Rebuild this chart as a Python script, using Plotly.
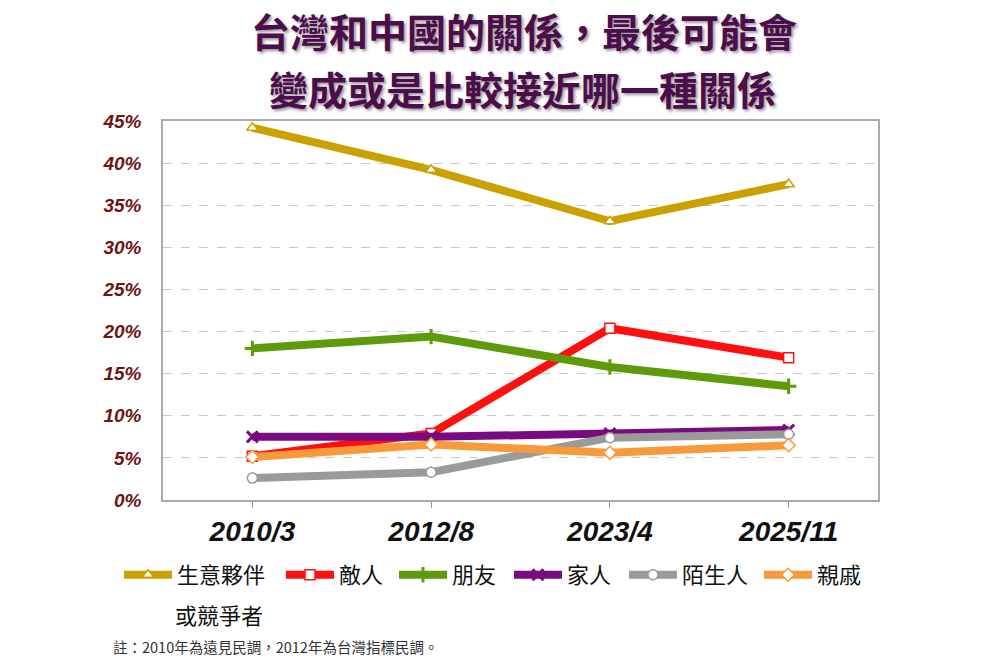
import plotly.graph_objects as go

periods = ["2010/3", "2012/8", "2023/4", "2025/11"]
series_names = ["生意夥伴", "敵人", "朋友", "家人", "陌生人", "親戚"]
partner = [44.2, 39.2, 33.1, 37.5]
enemy = [5.2, 7.9, 20.4, 16.9]
friend = [18.0, 19.4, 15.8, 13.5]
family = [7.5, 7.5, 7.9, 8.3]
stranger = [2.6, 3.3, 7.4, 7.8]
relative = [5.1, 6.6, 5.6, 6.5]
y_ticks = [0, 5, 10, 15, 20, 25, 30, 35, 40, 45]

series_values = [partner, enemy, friend, family, stranger, relative]
colors = ["#C9A100", "#FF1010", "#5E9A0A", "#7A0A80", "#9A9A9A", "#F99A3A"]
symbols = ["triangle-up", "square", "cross-thin", "x-thin", "circle", "diamond"]
fills = ["white", "white", "#5E9A0A", "#7A0A80", "white", "white"]

W, H = 1000, 666
l, r, t, b = 163, 122, 121, 166
pw, ph = W - l - r, H - t - b

def px_x(px):
    return (px - l) / pw

def px_y(py):
    return (H - b - py) / ph

legend_px = [119, 281, 394, 509, 624, 759]
legend_ids = ["legend", "legend2", "legend3", "legend4", "legend5", "legend6"]

fig = go.Figure()
for name, vals, c, s, f, lid in zip(series_names, series_values, colors, symbols, fills, legend_ids):
    thin = s.endswith("thin")
    fig.add_trace(go.Scatter(
        x=periods, y=vals, name=name, mode="lines+markers", legend=lid,
        line=dict(color=c, width=8),
        marker=dict(symbol=s, size=10 if not thin else 11, color=f,
                    line=dict(color=c, width=1.5 if not thin else 3)),
    ))

legend_font = dict(family="Noto Sans CJK TC", size=22, color="#111")
layout_legends = {}
for lid, lx in zip(legend_ids, legend_px):
    layout_legends[lid] = dict(orientation="h", x=px_x(lx), xanchor="left",
                               y=1 - 575 / H, yanchor="middle", yref="container",
                               font=legend_font, itemwidth=48,
                               bgcolor="rgba(0,0,0,0)")

fig.update_layout(
    width=W, height=H,
    margin=dict(l=l, r=r, t=t, b=b, autoexpand=False),
    paper_bgcolor="white", plot_bgcolor="white",
    showlegend=True,
    xaxis=dict(type="category", range=[-0.5, 3.5], showgrid=False, automargin=False,
               ticks="outside", ticklen=6, tickcolor="#999",
               showline=True, linecolor="#aaa", linewidth=1.5, mirror=True,
               tickfont=dict(family="Liberation Sans Narrow, Liberation Sans", size=28,
                             color="#111", weight="bold", style="italic"),
               ticklabelstandoff=0),
    yaxis=dict(range=[0, 45], tickvals=y_ticks, ticktext=[f"{v}%" for v in y_ticks],
               automargin=False,
               showgrid=True, gridcolor="#c8c8c8", griddash="dash", gridwidth=1,
               showline=True, linecolor="#aaa", linewidth=1.5, mirror=True,
               zeroline=False, ticks="",
               tickfont=dict(family="Liberation Sans", size=19, color="#6E1414",
                             weight="bold", style="italic"),
               ticklabelstandoff=16),
    **layout_legends,
)

title_font = dict(family="Noto Sans CJK TC", size=39, color="#4A0E4A", weight="bold",
                  shadow="2px 2px 3px rgba(80,60,80,0.55)")
fig.add_annotation(text="台灣和中國的關係，最後可能會", x=px_x(524), y=px_y(30),
                   xref="paper", yref="paper", showarrow=False, font=title_font,
                   yanchor="middle")
fig.add_annotation(text="變成或是比較接近哪一種關係", x=px_x(522), y=px_y(87.5),
                   xref="paper", yref="paper", showarrow=False, font=title_font,
                   yanchor="middle")
fig.add_annotation(text="或競爭者", x=px_x(173), y=px_y(614), xref="paper", yref="paper",
                   showarrow=False, xanchor="left", yanchor="middle", font=legend_font)
fig.add_annotation(text="註：2010年為遠見民調，2012年為台灣指標民調。", x=px_x(111), y=px_y(646),
                   xref="paper", yref="paper", showarrow=False, xanchor="left",
                   yanchor="middle",
                   font=dict(family="Noto Sans CJK TC", size=14.5, color="#333"))

fig.write_html("out.html")
